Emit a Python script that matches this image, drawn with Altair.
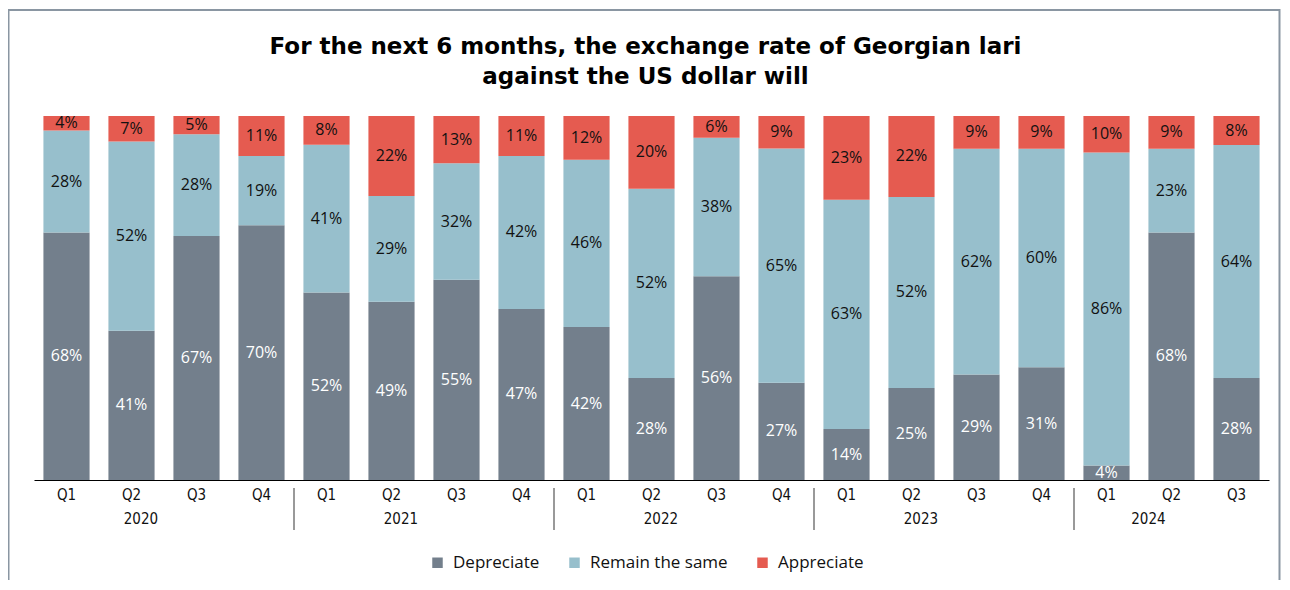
import altair as alt
import pandas as pd

years = ["2020"] * 4 + ["2021"] * 4 + ["2022"] * 4 + ["2023"] * 4 + ["2024"] * 3
quarters = ["Q1", "Q2", "Q3", "Q4"] * 4 + ["Q1", "Q2", "Q3"]
depreciate = [68, 41, 67, 70, 52, 49, 55, 47, 42, 28, 56, 27, 14, 25, 29, 31, 4, 68, 28]
remain = [28, 52, 28, 19, 41, 29, 32, 42, 46, 52, 38, 65, 63, 52, 62, 60, 86, 23, 64]
appreciate = [4, 7, 5, 11, 8, 22, 13, 11, 12, 20, 6, 9, 23, 22, 9, 9, 10, 9, 8]
series_names = ["Depreciate", "Remain the same", "Appreciate"]
series_colors = ["#737f8c", "#97bfcc", "#e55b50"]
year_labels = ["2020", "2021", "2022", "2023", "2024"]
title_lines = ["For the next 6 months, the exchange rate of Georgian lari", "against the US dollar will"]

W, H = 1235, 364
n = len(years)
step = W / n
NARROW = "Liberation Sans Narrow, DejaVu Sans Condensed, Roboto Condensed, Noto Sans"

keys = [f"{y} {q}" for y, q in zip(years, quarters)]
rows = []
for i, k in enumerate(keys):
    for j, (s, vals) in enumerate(zip(series_names, [depreciate, remain, appreciate])):
        rows.append({"key": k, "series": s, "order": j, "value": vals[i]})
df = pd.DataFrame(rows)

yl_rows = []
for yv in year_labels:
    ks = [k for k, y in zip(keys, years) if y == yv]
    if len(ks) % 2 == 0:
        yl_rows.append({"key": ks[len(ks) // 2 - 1], "year": yv, "dx": step / 2})
    else:
        yl_rows.append({"key": ks[len(ks) // 2], "year": yv, "dx": 0.0})
ydf = pd.DataFrame(yl_rows)
sep_df = pd.DataFrame({"key": [k for k, y, q in zip(keys, years, quarters) if q == "Q1" and y != years[0]]})

xenc = alt.X("key:N", sort=keys, title=None,
             scale=alt.Scale(paddingInner=0.29, paddingOuter=0.145),
             axis=alt.Axis(labelExpr="split(datum.label, ' ')[1]", labelAngle=0, ticks=False,
                           domainColor="#000000", domainWidth=1.2, labelFont=NARROW,
                           labelFontSize=15, labelColor="#111111", labelPadding=7))

base = alt.Chart(df).transform_stack(
    stack="value", groupby=["key"], as_=["y0", "y1"], offset="normalize",
    sort=[alt.SortField("order", order="ascending")]
).transform_calculate(mid="(datum.y0 + datum.y1) / 2")

bars = base.mark_bar().encode(
    x=xenc,
    y=alt.Y("y0:Q", scale=alt.Scale(domain=[0, 1]), axis=None),
    y2="y1:Q",
    color=alt.Color("series:N", scale=alt.Scale(domain=series_names, range=series_colors),
                    legend=alt.Legend(title=None, orient="none", direction="horizontal",
                                      legendX=395, legendY=438, symbolType="square",
                                      symbolSize=110, symbolStrokeWidth=0, labelFont="Open Sans",
                                      labelFontSize=17, labelColor="#111111", columnPadding=26,
                                      labelOffset=7, padding=0)),
)

labels = base.mark_text(font="Open Sans", fontSize=16, baseline="middle").encode(
    x=alt.X("key:N", sort=keys),
    y=alt.Y("mid:Q"),
    text=alt.Text("label:N"),
    color=alt.when(alt.datum.series == "Depreciate").then(alt.value("white")).otherwise(alt.value("#111111")),
).transform_calculate(label="datum.value + '%'")

yeartext = alt.Chart(ydf).mark_text(font=NARROW, fontSize=15, color="#111111",
                                     baseline="middle").encode(
    x=alt.X("key:N", sort=keys),
    xOffset=alt.XOffset("dx:Q", scale=None),
    y=alt.value(H + 39),
    text="year:N",
)

seps = alt.Chart(sep_df).mark_rule(color="#555555", strokeWidth=1.2, xOffset=-step / 2).encode(
    x=alt.X("key:N", sort=keys),
    y=alt.value(H + 8),
    y2=alt.value(H + 50),
)

frame = alt.Chart(pd.DataFrame({"a": [0]})).mark_rect(
    fill=None, stroke="#8a96a2", strokeWidth=2
).encode(
    x=alt.value(-25.5), x2=alt.value(1245.5), y=alt.value(-106), y2=alt.value(H + 200)
)

title = alt.Chart(pd.DataFrame({"t": ["\n".join(title_lines)]})).mark_text(
    font="DejaVu Sans", fontSize=23, fontWeight="bold", color="#000000",
    align="center", baseline="middle", lineBreak="\n", lineHeight=30
).encode(x=alt.value(611.5), y=alt.value(-69), text="t:N")

chart = alt.layer(frame, bars, labels, yeartext, seps, title).properties(
    width=W, height=H,
    autosize=alt.AutoSizeParams(type="none"),
    padding={"left": 26, "top": 108, "right": 13, "bottom": 100},
).configure_view(stroke=None)

chart.save("out.html", embed_options={"renderer": "svg", "actions": False})
